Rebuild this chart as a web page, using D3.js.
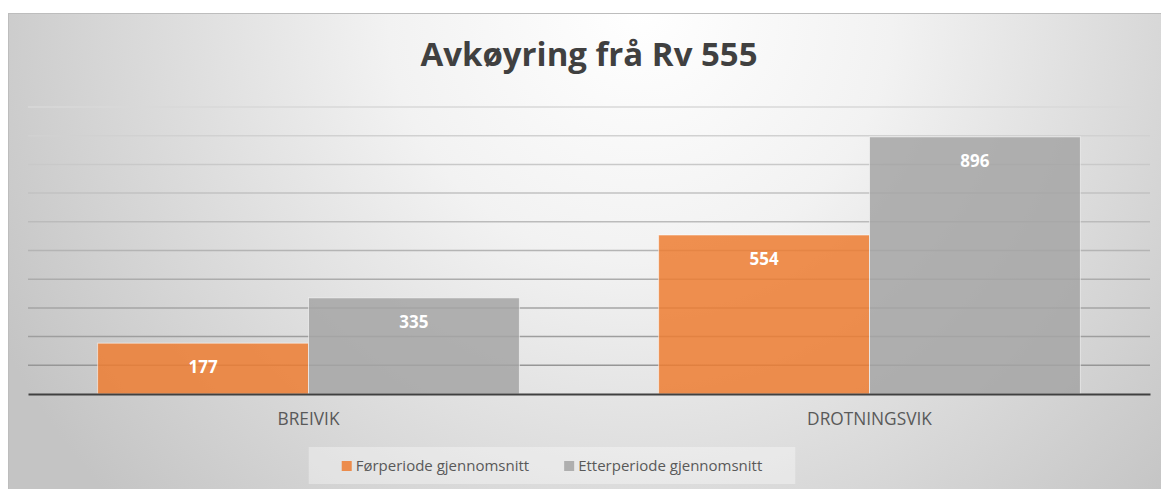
<!DOCTYPE html>
<html>
<head>
<meta charset="utf-8">
<script src="https://cdn.jsdelivr.net/npm/d3@7"></script>
<style>
  body { margin: 0; background: #fff; }
  text { font-family: "Open Sans", sans-serif; }
</style>
</head>
<body>
<script>
// chart data
var categories = ["BREIVIK", "DROTNINGSVIK"];
var seriesNames = ["Førperiode gjennomsnitt", "Etterperiode gjennomsnitt"];
var forValues = [177, 554];
var etterValues = [335, 896];
var yTickValues = [0, 100, 200, 300, 400, 500, 600, 700, 800, 900, 1000];
var chartTitle = "Avkøyring frå Rv 555";

var svg_width = 1161;
var svg_height = 489;
var colors = ["#ED7D31", "#A5A5A5"];

const svg = d3.select('body')
    .append('svg')
    .attr("width", svg_width)
    .attr("height", svg_height);

// background gradient
const defs = svg.append('defs');
const grad = defs.append('radialGradient')
    .attr('id', 'bg')
    .attr('gradientUnits', 'userSpaceOnUse')
    .attr('cx', 640).attr('cy', 10).attr('r', 720);
grad.append('stop').attr('offset', 0).attr('stop-color', '#ffffff');
grad.append('stop').attr('offset', 0.35).attr('stop-color', '#f2f2f2');
grad.append('stop').attr('offset', 1).attr('stop-color', '#c4c4c4');

svg.append('rect')
    .attr('x', 8.5).attr('y', 13.5)
    .attr('width', svg_width - 8).attr('height', svg_height - 13)
    .attr('fill', 'url(#bg)')
    .attr('stroke', '#bdbdbd');

// scales
const x0 = d3.scaleBand().domain(categories).range([28, 1150]);
const x1 = d3.scaleBand().domain(seriesNames)
    .range([0, x0.bandwidth()]).paddingInner(0).paddingOuter(0.33);
const y = d3.scaleLinear().domain([0, 1000]).range([394, 107]);

// gridlines, darker near the bottom
const gridColor = d3.scaleLinear().domain([0, 1000]).range(["#8f8f8f", "#d8d8d8"]);
svg.append('g').selectAll('line')
    .data(yTickValues.filter(d => d > 0))
    .enter().append('line')
    .attr('x1', 28).attr('x2', 1150)
    .attr('y1', d => y(d)).attr('y2', d => y(d))
    .attr('stroke', d => gridColor(d))
    .attr('stroke-width', 1.5);

// bars
const rows = categories.map((c, i) => ({ cat: c, vals: [forValues[i], etterValues[i]] }));
const groups = svg.append('g').selectAll('g')
    .data(rows).enter().append('g')
    .attr('transform', d => `translate(${x0(d.cat)},0)`);

groups.selectAll('rect')
    .data(d => d.vals.map((v, k) => ({ name: seriesNames[k], value: v, k: k })))
    .enter().append('rect')
    .attr('x', d => x1(d.name))
    .attr('y', d => y(d.value))
    .attr('width', x1.bandwidth())
    .attr('height', d => y(0) - y(d.value))
    .attr('fill', d => colors[d.k])
    .attr('fill-opacity', 0.85)
    .attr('stroke', 'rgba(255,255,255,0.55)')
    .attr('stroke-width', 1);

groups.selectAll('text')
    .data(d => d.vals.map((v, k) => ({ name: seriesNames[k], value: v })))
    .enter().append('text')
    .attr('x', d => x1(d.name) + x1.bandwidth() / 2)
    .attr('y', d => y(d.value) + 30)
    .attr('text-anchor', 'middle')
    .attr('fill', '#ffffff')
    .attr('font-weight', 'bold')
    .attr('font-size', '17px')
    .text(d => d.value);

// x axis
const xAxis = svg.append('g')
    .attr('transform', `translate(0,${y(0)})`)
    .call(d3.axisBottom(x0).tickSize(0).tickPadding(19));
xAxis.select('.domain').attr('stroke', '#404040').attr('stroke-width', 2.2);
xAxis.selectAll('text')
    .attr('font-family', '"Open Sans", sans-serif')
    .attr('font-size', '17.3px')
    .attr('fill', '#595959');

// title
svg.append('text')
    .attr('x', 589).attr('y', 66)
    .attr('text-anchor', 'middle')
    .attr('font-size', '33px')
    .attr('font-weight', 'bold')
    .attr('fill', '#404040')
    .text(chartTitle);

// legend
const legend = svg.append('g');
const legendBox = legend.append('rect')
    .attr('fill', '#ffffff').attr('fill-opacity', 0.35);
const items = legend.selectAll('g')
    .data(seriesNames).enter().append('g');
items.append('rect')
    .attr('width', 10).attr('height', 10)
    .attr('y', -10)
    .attr('fill', (d, i) => colors[i])
    .attr('fill-opacity', 0.85);
items.append('text')
    .attr('x', 14)
    .attr('font-size', '15px')
    .attr('fill', '#595959')
    .text(d => d);

var lx = 0;
items.each(function () {
    const w = 14 + d3.select(this).select('text').node().getComputedTextLength();
    d3.select(this).attr('transform', `translate(${lx},0)`);
    lx += w + 35;
});
const legendWidth = lx - 35;
const legendLeft = 552 - legendWidth / 2;
legend.attr('transform', `translate(${legendLeft},471)`);
legendBox.attr('x', -33).attr('y', -24)
    .attr('width', legendWidth + 66).attr('height', 37);
</script>
</body>
</html>
